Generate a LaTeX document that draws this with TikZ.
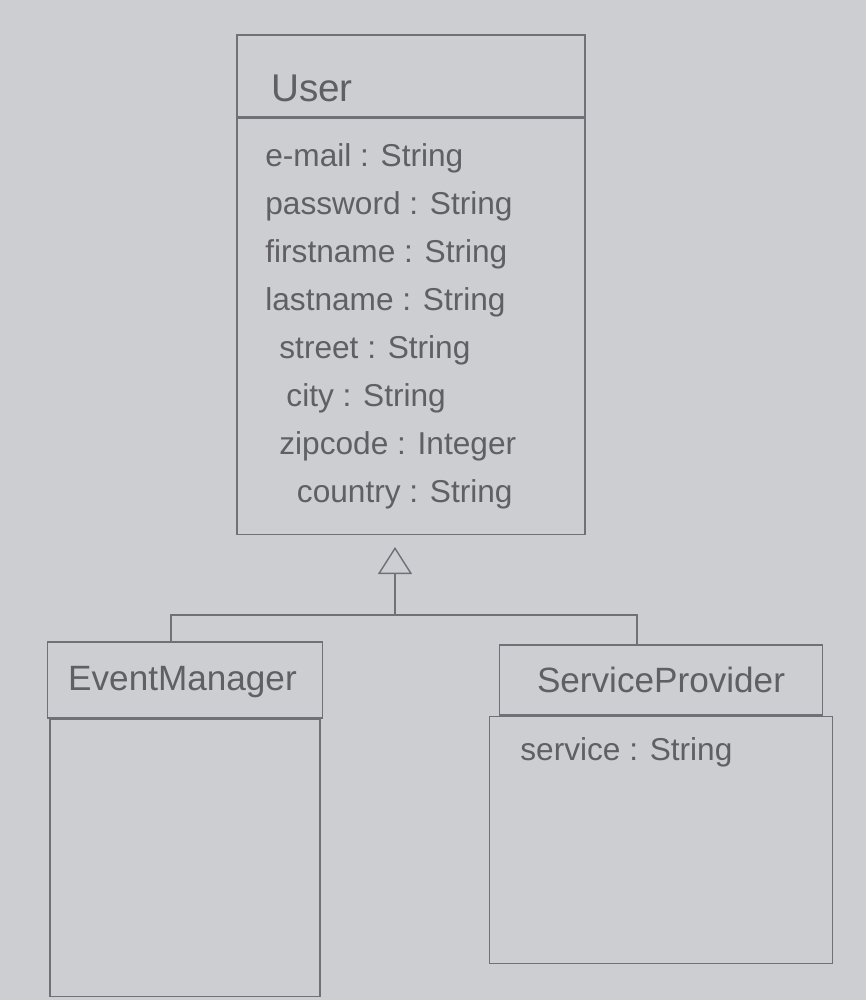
\documentclass[tikz,border=0pt]{standalone}
\usepackage{fontspec}
\setmainfont{Liberation Sans}
\usetikzlibrary{positioning,arrows.meta}
\definecolor{paper}{RGB}{204,206,210}
\definecolor{pencil}{RGB}{112,112,118}
\tikzset{
	classbox/.style = {
		draw = pencil,
		line width = 0.8pt,
		rectangle,
		inner sep = 0pt
	},
	classname/.style = {
		text = pencil!85!black,
		font = \fontsize{20}{24}\selectfont
	},
	attrs/.style = {
		text = pencil!85!black,
		align = left,
		inner sep = 0pt,
		font = \fontsize{18}{27.3}\selectfont
	},
	link/.style = {
		draw = pencil,
		line width = 0.8pt
	}
}

\begin{document}
\begin{tikzpicture}[x=0.02cm, y=-0.02cm]
    \fill [paper] (0,0) rectangle (866,1000) ;
    \useasboundingbox (0,0) rectangle (866,1000) ;

    % User
    \node [classbox, minimum width = 6.96cm, minimum height = 1.64cm] (userhead) at (411,76) {} ;
    \node [classbox, below = 0pt of userhead, minimum width = 6.96cm, minimum height = 8.32cm] (userbody) {} ;
    \node [classname, font = \fontsize{22}{26}\selectfont, anchor = west] (username) at (265,88) {User} ;
    \node [attrs, anchor = north west] (userattrs) at (265,143) {e-mail : String\\password : String\\firstname : String\\lastname : String\\\hspace*{8pt}street : String\\\hspace*{12pt}city : String\\\hspace*{8pt}zipcode : Integer\\\hspace*{18pt}country : String} ;

    % EventManager
    \node [classbox, minimum width = 5.5cm, minimum height = 1.52cm] (emhead) at (185,680) {} ;
    \node [classbox, below = 0pt of emhead, minimum width = 5.4cm, minimum height = 5.54cm] (embody) {} ;
    \node [classname, anchor = west] (emname) at (62,682) {EventManager} ;

    % ServiceProvider
    \node [classbox, minimum width = 6.46cm, minimum height = 1.4cm] (sphead) at (661,680) {} ;
    \node [classbox, below = 0pt of sphead, minimum width = 6.86cm, minimum height = 4.94cm] (spbody) {} ;
    \node [classname] (spname) at (sphead) {ServiceProvider} ;
    \node [attrs, anchor = west] (spattrs) at (520,752) {service : String} ;

    % generalisation
    \coordinate (join) at (395,615) ;
    \coordinate (emdrop) at (171,0) ;
    \coordinate (spdrop) at (637,0) ;
    \draw [link, -{Triangle[open, length = 5.4mm, width = 6.8mm]}, shorten > = 2.4mm] (join) -- (userbody.south -| join) ;
    \draw [link] (emhead.north -| emdrop) |- (join) -| (sphead.north -| spdrop) ;
\end{tikzpicture}
\end{document}
